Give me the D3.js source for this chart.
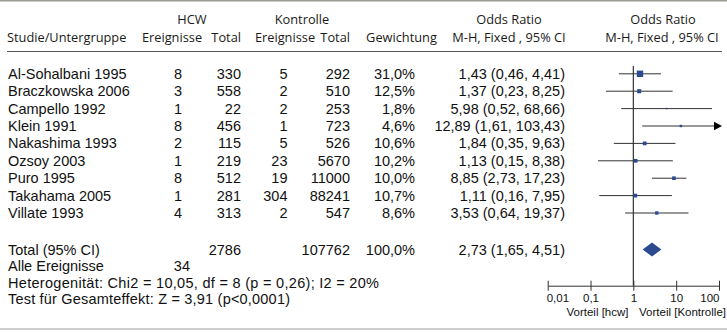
<!DOCTYPE html>
<html><head><meta charset="utf-8">
<script src="https://cdn.jsdelivr.net/npm/d3@7/dist/d3.min.js"></script>
<style>
body{margin:0;background:#fff;}
svg{display:block;}
.hd{font-family:"Open Sans","Noto Sans",sans-serif;font-size:12.8px;fill:#1a1a1a;}
.bd{font-family:"Liberation Sans",Arial,sans-serif;font-size:14.5px;fill:#111;}
.ax{font-family:"Liberation Sans",Arial,sans-serif;font-size:11.5px;fill:#111;}
.vt{font-family:"Liberation Sans Narrow","Liberation Sans",Arial,sans-serif;font-size:11.5px;fill:#111;}
</style></head>
<body>
<svg id="c" width="727" height="333"></svg>
<script>
const studies = ["Al-Sohalbani 1995","Braczkowska 2006","Campello 1992","Klein 1991","Nakashima 1993","Ozsoy 2003","Puro 1995","Takahama 2005","Villate 1993"];
const hcwEvents = [8,3,1,8,2,1,8,1,4];
const hcwTotal = [330,558,22,456,115,219,512,281,313];
const ctrlEvents = [5,2,2,1,5,23,19,304,2];
const ctrlTotal = [292,510,253,723,526,5670,11000,88241,547];
const weights = [31.0,12.5,1.8,4.6,10.6,10.2,10.0,10.7,8.6];
const orVal = [1.43,1.37,5.98,12.89,1.84,1.13,8.85,1.11,3.53];
const orLo = [0.46,0.23,0.52,1.61,0.35,0.15,2.73,0.16,0.64];
const orHi = [4.41,8.25,68.66,103.43,9.63,8.38,17.23,7.95,19.37];
const total = {hcwTotal:2786, ctrlTotal:107762, weight:100.0, or:2.73, lo:1.65, hi:4.51, events:34};
const tickValues = [0.01,0.1,1,10,100];
const tickLabels = ["0,01","0,1","1","10","100"];
const hetText = "Heterogenität: Chi2 = 10,05, df = 8 (p = 0,26); I2 = 20%";
const testText = "Test für Gesamteffekt: Z = 3,91 (p<0,0001)";

const fmt = (v,d)=> v.toFixed(d).replace(".",",");
const svg = d3.select("#c");
const x = d3.scaleLog().domain([0.01,100]).range([547.7,719]);
const y = d3.scalePoint().domain(studies).range([73.8,213]);

// lines
svg.append("rect").attr("x",0).attr("y",0).attr("width",727).attr("height",1.5).attr("fill","#9c9c90");
svg.append("line").attr("x1",7).attr("x2",722).attr("y1",51.5).attr("y2",51.5).attr("stroke","#555").attr("stroke-width",1);
svg.append("rect").attr("x",0).attr("y",328).attr("width",727).attr("height",2).attr("fill","#cfcfcf");

// header
const h1 = 19.0, h2 = 36.6;
const hd = (t,xx,yy,anchor)=>svg.append("text").attr("class","hd").attr("x",xx).attr("y",yy).attr("text-anchor",anchor).attr("dominant-baseline","central").text(t);
hd("HCW",192,h1,"middle");
hd("Kontrolle",302,h1,"middle");
hd("Odds Ratio",509,h1,"middle");
hd("Odds Ratio",663,h1,"middle");
hd("Studie/Untergruppe",7,h2,"start");
hd("Ereignisse",172,h2,"middle");
hd("Total",241,h2,"end");
hd("Ereignisse",285,h2,"middle");
hd("Total",350,h2,"end");
hd("Gewichtung",401.5,h2,"middle");
hd("M-H, Fixed , 95% CI",509,h2,"middle");
hd("M-H, Fixed , 95% CI",662,h2,"middle");

const bd = (t,xx,yy,anchor)=>svg.append("text").attr("class","bd").attr("x",xx).attr("y",yy).attr("text-anchor",anchor).attr("dominant-baseline","central").text(t);

studies.forEach((s,i)=>{
  const yy = y(s);
  bd(s,8,yy,"start");
  bd(hcwEvents[i],182,yy,"end");
  bd(hcwTotal[i],241,yy,"end");
  bd(ctrlEvents[i],287.5,yy,"end");
  bd(ctrlTotal[i],350,yy,"end");
  bd(fmt(weights[i],1)+"%",415,yy,"end");
  bd(`${fmt(orVal[i],2)} (${fmt(orLo[i],2)}, ${fmt(orHi[i],2)})`,565,yy,"end");
});

// total rows
const ty = 249.5;
bd("Total (95% CI)",8,ty,"start");
bd(total.hcwTotal,241,ty,"end");
bd(total.ctrlTotal,350,ty,"end");
bd(fmt(total.weight,1)+"%",415,ty,"end");
bd(`${fmt(total.or,2)} (${fmt(total.lo,2)}, ${fmt(total.hi,2)})`,565,ty,"end");
bd("Alle Ereignisse",8,266,"start");
bd(total.events,190,266,"end");
bd(hetText,8,282.5,"start").attr("textLength",371).attr("lengthAdjust","spacing");
bd(testText,8,298.5,"start").attr("textLength",282).attr("lengthAdjust","spacing");

// forest plot
svg.append("line").attr("x1",x(1)).attr("x2",x(1)).attr("y1",66).attr("y2",285.7).attr("stroke","#333").attr("stroke-width",1.2);
const markColor = "#2c4a92";
studies.forEach((s,i)=>{
  const yy = y(s);
  const x2 = orHi[i]>100 ? x(100)-4 : x(orHi[i]);
  svg.append("line").attr("x1",x(orLo[i])).attr("x2",x2).attr("y1",yy).attr("y2",yy).attr("stroke","#333").attr("stroke-width",1);
  if(orHi[i]>100){
    const ax = x(100)+3;
    svg.append("path").attr("d",`M${ax},${yy} L${ax-8},${yy-4.2} L${ax-8},${yy+4.2} Z`).attr("fill","#000");
  }
  const sz = 1.15*Math.sqrt(weights[i]);
  svg.append("rect").attr("x",x(orVal[i])-sz/2).attr("y",yy-sz/2).attr("width",sz).attr("height",sz).attr("fill",markColor);
});
// diamond
svg.append("path").attr("d",`M${x(total.lo)},${ty} L${x(total.or)},${ty-7} L${x(total.hi)},${ty} L${x(total.or)},${ty+7} Z`).attr("fill",markColor);

// axis
const axY = 285.7;
const axis = d3.axisBottom(x).tickValues(tickValues).tickFormat((d,i)=>tickLabels[i]).tickSizeInner(-5).tickSizeOuter(0).tickPadding(3);
const g = svg.append("g").attr("transform",`translate(0,${axY})`).call(axis);
g.attr("font-family",null).attr("font-size",null);
g.select(".domain").attr("stroke","#333");
g.selectAll(".tick line").attr("y1",-5).attr("y2",5).attr("stroke","#333");
g.selectAll(".tick text").attr("class","ax").attr("y",11).attr("dy","0.1em")
  .attr("dominant-baseline","central")
  .attr("text-anchor",(d,i)=> i===0 ? "start" : (i===tickValues.length-1 ? "end" : "middle"))
  .attr("x",(d,i)=> i===0 ? -1.5 : 0);
svg.append("text").attr("class","vt").attr("x",597.5).attr("y",312).attr("text-anchor","middle").attr("dominant-baseline","central").text("Vorteil [hcw]");
svg.append("text").attr("class","vt").attr("x",682.5).attr("y",312).attr("text-anchor","middle").attr("dominant-baseline","central").text("Vorteil [Kontrolle]");
</script>
</body></html>
